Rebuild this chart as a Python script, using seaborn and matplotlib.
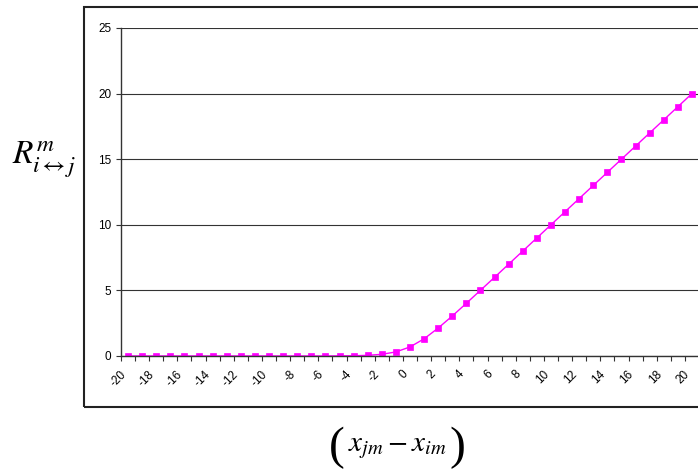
import numpy as np
import pandas as pd
import matplotlib
matplotlib.use("Agg")
import matplotlib.pyplot as plt
import matplotlib.transforms as mtransforms
from matplotlib.patches import Rectangle
import seaborn as sns

# ---- data ----
x_vals = list(range(-20, 21))
r_vals = [0.0, 0.0, 0.0, 0.0, 0.0, 0.0, 0.0, 0.0, 0.0, 0.0,
          0.0, 0.0, 0.0, 0.0, 0.0, 0.01, 0.02, 0.05, 0.13, 0.31,
          0.69, 1.31, 2.13, 3.05, 4.02, 5.01, 6.0, 7.0, 8.0, 9.0,
          10.0, 11.0, 12.0, 13.0, 14.0, 15.0, 16.0, 17.0, 18.0, 19.0, 20.0]
x_tick_labels = [str(v) for v in range(-20, 21, 2)]
y_ticks = [0, 5, 10, 15, 20, 25]

df = pd.DataFrame({"x": x_vals, "r": r_vals})

sns.set_style("white")
plt.rcParams["font.family"] = ["Liberation Sans", "DejaVu Sans"]
plt.rcParams["mathtext.fontset"] = "stix"
plt.rcParams["text.color"] = "black"
plt.rcParams["xtick.color"] = "black"
plt.rcParams["ytick.color"] = "black"

W, H = 698, 470
fig = plt.figure(figsize=(W / 100, H / 100), dpi=100)
fig.patch.set_facecolor("white")

left, right, top, bottom = 121, 699, 28, 356
ax = fig.add_axes([left / W, (H - bottom) / H, (right - left) / W, (bottom - top) / H])
ax.set_facecolor("white")

sns.lineplot(data=df, x="x", y="r", ax=ax, color="#FF00FF", linewidth=1,
             marker="s", markersize=5, markeredgecolor="#FF00FF",
             markeredgewidth=0.5, legend=False)

ax.set_xlim(-20.5, 20.5)
ax.set_ylim(0, 25)
ax.set_yticks(y_ticks)
ax.set_yticklabels([str(v) for v in y_ticks])
ax.set_xticks(list(range(-20, 21, 2)))
ax.set_xticklabels(x_tick_labels, rotation=45, ha="right", va="center",
                   rotation_mode="anchor")
ax.set_xticks(np.arange(-20.5, 21, 1.0), minor=True)

ax.set_xlabel("")
ax.set_ylabel("")

for s in ["top", "right"]:
    ax.spines[s].set_visible(False)
for s in ["left", "bottom"]:
    ax.spines[s].set_color("#333333")
    ax.spines[s].set_linewidth(1.0)

ax.grid(axis="y", color="#333333", linewidth=0.8)
ax.grid(axis="x", visible=False)
ax.set_axisbelow(True)

ax.tick_params(axis="y", which="major", direction="out", length=3.5, width=0.8,
               color="#333333", labelcolor="black", labelsize=8.5, pad=3.5, left=True)
ax.tick_params(axis="x", which="major", length=0, labelsize=8.5, labelcolor="black",
               pad=12)
ax.tick_params(axis="x", which="minor", direction="out", length=3.5, width=0.8,
               color="#333333", bottom=True)

offset = mtransforms.ScaledTranslation(-4 / 100, 0, fig.dpi_scale_trans)
for lab in ax.get_xticklabels():
    lab.set_transform(lab.get_transform() + offset)

# outer chart-area frame
fig.patches.append(Rectangle((84 / W, (H - 407) / H), (730 - 84) / W, (407 - 7) / H,
                             transform=fig.transFigure, fill=False,
                             edgecolor="#222222", linewidth=1.5))

# y-axis title
fig.text(44 / W, 1 - 160 / H, r"$R^{m}_{i\leftrightarrow j}$", fontsize=24,
         ha="center", va="center", color="black")
# x-axis title with tall parentheses
fig.text(397 / W, 1 - 447 / H, r"$x_{jm}-x_{im}$", fontsize=21,
         ha="center", va="center", color="black")
fig.text(337 / W, 1 - 448 / H, "(", fontsize=34, family="Liberation Serif",
         ha="center", va="center", color="black")
fig.text(457 / W, 1 - 448 / H, ")", fontsize=34, family="Liberation Serif",
         ha="center", va="center", color="black")

fig.savefig("out.png", dpi=100)
